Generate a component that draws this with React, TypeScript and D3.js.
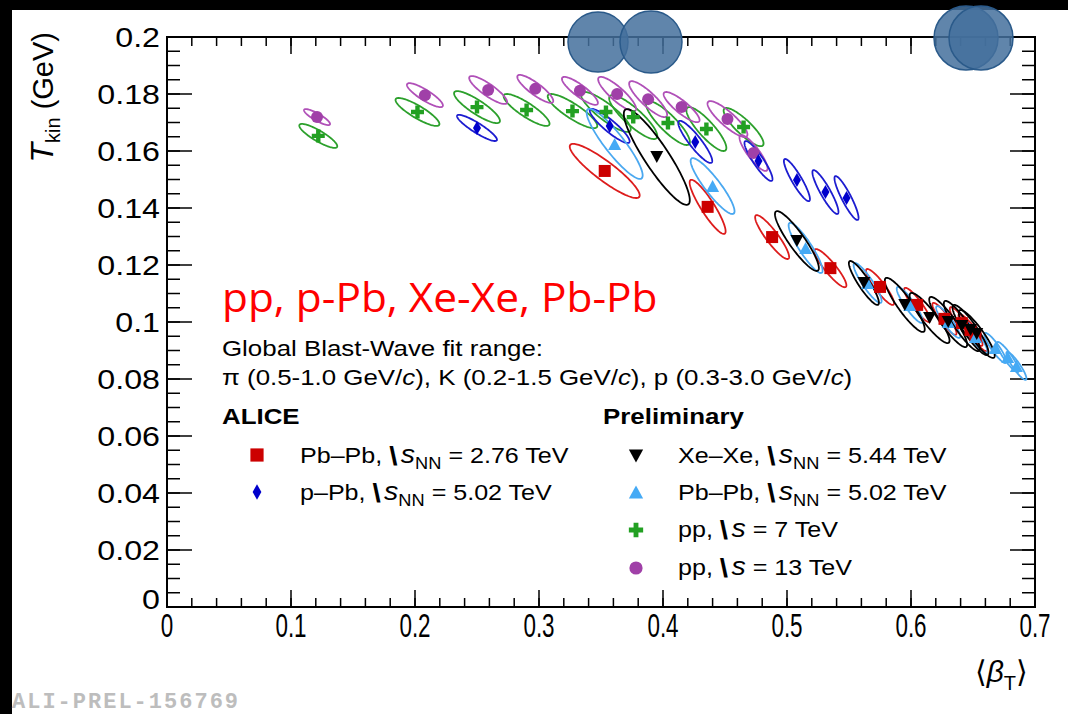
import React from 'react';
import * as d3 from 'd3';

const W = 1068;
const H = 714;

// axis ranges and tick labels
const xDomain = [0, 0.7];
const yDomain = [0, 0.2];
const xTickLabels = ['0', '0.1', '0.2', '0.3', '0.4', '0.5', '0.6', '0.7'];
const yTickLabels = ['0', '0.02', '0.04', '0.06', '0.08', '0.1', '0.12', '0.14', '0.16', '0.18', '0.2'];

// [<beta_T>, T_kin, sigma(beta), sigma(T)]
type Pt = [number, number, number, number];

const pbpb276: Pt[] = [
  [0.353, 0.153, 0.0282, 0.0095],
  [0.436, 0.1404, 0.0145, 0.0095],
  [0.488, 0.1298, 0.0137, 0.0077],
  [0.535, 0.1189, 0.0129, 0.0067],
  [0.575, 0.1123, 0.0113, 0.0063],
  [0.605, 0.106, 0.0105, 0.006],
  [0.627, 0.1011, 0.0097, 0.0056],
  [0.641, 0.0996, 0.0097, 0.0056],
  [0.648, 0.0972, 0.0097, 0.0056],
  [0.652, 0.0954, 0.0097, 0.0056],
];
const ppb502: Pt[] = [
  [0.25, 0.1681, 0.0161, 0.0046],
  [0.357, 0.1688, 0.0161, 0.006],
  [0.426, 0.1632, 0.0137, 0.0074],
  [0.477, 0.1565, 0.0113, 0.007],
  [0.508, 0.1498, 0.0105, 0.0074],
  [0.531, 0.1456, 0.0105, 0.0077],
  [0.548, 0.1435, 0.0097, 0.0077],
];
const xexe544: Pt[] = [
  [0.395, 0.1579, 0.0266, 0.0168],
  [0.508, 0.1284, 0.0177, 0.0105],
  [0.562, 0.1137, 0.0121, 0.0077],
  [0.595, 0.106, 0.0161, 0.0095],
  [0.615, 0.1014, 0.0161, 0.0088],
  [0.63, 0.1, 0.0153, 0.0088],
  [0.641, 0.0986, 0.0145, 0.0088],
  [0.648, 0.0972, 0.0145, 0.0088],
  [0.653, 0.0958, 0.0145, 0.0084],
];
const pbpb502: Pt[] = [
  [0.361, 0.1625, 0.0226, 0.0123],
  [0.44, 0.1477, 0.0177, 0.0098],
  [0.515, 0.126, 0.0137, 0.0088],
  [0.565, 0.1137, 0.0113, 0.007],
  [0.599, 0.106, 0.0105, 0.0063],
  [0.63, 0.1, 0.0097, 0.0056],
  [0.652, 0.0947, 0.0097, 0.0056],
  [0.668, 0.0909, 0.0089, 0.0053],
  [0.678, 0.0877, 0.0089, 0.0053],
  [0.685, 0.0846, 0.0081, 0.0049],
];
const pp7: Pt[] = [
  [0.122, 0.1653, 0.0153, 0.0042],
  [0.202, 0.1737, 0.0177, 0.0049],
  [0.25, 0.1754, 0.0185, 0.0056],
  [0.29, 0.1744, 0.0185, 0.0056],
  [0.327, 0.174, 0.02, 0.006],
  [0.354, 0.1737, 0.02, 0.007],
  [0.376, 0.1719, 0.0194, 0.0077],
  [0.404, 0.1698, 0.0177, 0.0077],
  [0.435, 0.1677, 0.0161, 0.0077],
  [0.465, 0.1684, 0.0161, 0.0067],
];
const pp13: Pt[] = [
  [0.121, 0.1719, 0.0105, 0.0028],
  [0.208, 0.1796, 0.0145, 0.0042],
  [0.259, 0.1814, 0.0153, 0.0049],
  [0.297, 0.1818, 0.0145, 0.0049],
  [0.333, 0.1811, 0.0145, 0.0049],
  [0.363, 0.18, 0.0153, 0.006],
  [0.388, 0.1782, 0.0153, 0.0063],
  [0.415, 0.1754, 0.0145, 0.0053],
  [0.452, 0.1712, 0.0161, 0.0063],
  [0.473, 0.1593, 0.0113, 0.0063],
];
// correlation coefficient of each series' contour
const rhoPbPb276 = -0.9;
const rhoPPb502 = -0.9;
const rhoXeXe = -0.9;
const rhoPbPb502 = -0.9;
const rhoPP7 = -0.86;
const rhoPP13 = -0.86;

const PL = 167, PR = 1035, PT = 37, PB = 607;
const x = d3.scaleLinear().domain(xDomain).range([PL, PR]);
const y = d3.scaleLinear().domain(yDomain).range([PB, PT]);

const FONT = 'Liberation Sans, Arial, Helvetica, sans-serif';

function ellipsePath(p: Pt, rho: number): string {
  const ts = d3.range(0, 2 * Math.PI + 0.001, Math.PI / 60);
  const k = Math.sqrt(1 - rho * rho);
  const line = d3.line<number>()
    .x(t => x(p[0] + p[2] * Math.cos(t)))
    .y(t => y(p[1] + p[3] * (rho * Math.cos(t) + k * Math.sin(t))))
    .curve(d3.curveLinearClosed);
  return line(ts) || '';
}

type Kind = 'square' | 'diamond' | 'tridown' | 'triup' | 'cross' | 'circle';

function Marker({ cx, cy, kind, color, s = 1 }: { cx: number; cy: number; kind: Kind; color: string; s?: number }) {
  let d = '';
  if (kind === 'square') {
    const h = 6 * s;
    d = `M${-h},${-h}H${h}V${h}H${-h}Z`;
  } else if (kind === 'diamond') {
    const w = 4 * s, h = 7 * s;
    d = `M0,${-h}L${w},0L0,${h}L${-w},0Z`;
  } else if (kind === 'tridown') {
    const w = 6.5 * s, h = 6 * s;
    d = `M${-w},${-h}L${w},${-h}L0,${h}Z`;
  } else if (kind === 'triup') {
    const w = 6.5 * s, h = 6 * s;
    d = `M${-w},${h}L${w},${h}L0,${-h}Z`;
  } else if (kind === 'cross') {
    const a = 6.5 * s, b = 2.2 * s;
    d = `M${-b},${-a}H${b}V${-b}H${a}V${b}H${b}V${a}H${-b}V${b}H${-a}V${-b}H${-b}Z`;
  } else {
    return <circle cx={cx} cy={cy} r={6 * s} fill={color} />;
  }
  return <path d={d} transform={`translate(${cx},${cy})`} fill={color} />;
}

const series = [
  { data: pp7, rho: rhoPP7, kind: 'cross' as Kind, line: '#2ca02c', fill: '#22a022' },
  { data: pp13, rho: rhoPP13, kind: 'circle' as Kind, line: '#b050b8', fill: '#a040a8' },
  { data: ppb502, rho: rhoPPb502, kind: 'diamond' as Kind, line: '#1c1cd0', fill: '#0000cc' },
  { data: pbpb276, rho: rhoPbPb276, kind: 'square' as Kind, line: '#dd1c1c', fill: '#cc0000' },
  { data: pbpb502, rho: rhoPbPb502, kind: 'triup' as Kind, line: '#4aa8f0', fill: '#45aaf5' },
  { data: xexe544, rho: rhoXeXe, kind: 'tridown' as Kind, line: '#000000', fill: '#000000' },
];

function LegendText({ tx, ty, pre, sub, post }: { tx: number; ty: number; pre: string; sub: string; post: string }) {
  return (
    <text transform={`translate(${tx},${ty}) scale(1.14,1)`} fontFamily={FONT} fontSize={22} fill="#000">
      <tspan>{pre}</tspan>
      <tspan fontWeight="bold" fontSize={26} dy={2}>{'\\'}</tspan>
      <tspan fontStyle="italic" fontSize={25} dy={-2} dx={3}>{'s'}</tspan>
      {sub ? <tspan fontSize={16} dy={6}>{sub}</tspan> : null}
      <tspan dy={sub ? -6 : 0}>{post}</tspan>
    </text>
  );
}

export default function App() {
  const xMajor = d3.range(0, 0.7001, 0.1);
  const xMinor = d3.range(0, 0.7001, 0.02);
  const yMajor = d3.range(0, 0.2001, 0.02);
  const yMinor = d3.range(0, 0.2001, 0.005);

  return (
    <svg width={W} height={H} style={{ position: 'absolute', left: 0, top: 0 }}>
      <rect x={0} y={0} width={W} height={H} fill="#000" />
      <rect x={12} y={10} width={W - 12} height={H - 10} fill="#fff" />

      {/* axes frame */}
      <rect x={PL} y={PT} width={PR - PL} height={PB - PT} fill="none" stroke="#000" strokeWidth={2} />
      {xMinor.map((v, i) => (
        <g key={'xm' + i}>
          <line x1={x(v)} x2={x(v)} y1={PB} y2={PB - 9} stroke="#000" strokeWidth={1.5} />
          <line x1={x(v)} x2={x(v)} y1={PT} y2={PT + 9} stroke="#000" strokeWidth={1.5} />
        </g>
      ))}
      {xMajor.map((v, i) => (
        <g key={'xM' + i}>
          <line x1={x(v)} x2={x(v)} y1={PB} y2={PB - 17} stroke="#000" strokeWidth={1.5} />
          <line x1={x(v)} x2={x(v)} y1={PT} y2={PT + 17} stroke="#000" strokeWidth={1.5} />
        </g>
      ))}
      {yMinor.map((v, i) => (
        <g key={'ym' + i}>
          <line x1={PL} x2={PL + 13} y1={y(v)} y2={y(v)} stroke="#000" strokeWidth={1.5} />
          <line x1={PR} x2={PR - 13} y1={y(v)} y2={y(v)} stroke="#000" strokeWidth={1.5} />
        </g>
      ))}
      {yMajor.map((v, i) => (
        <g key={'yM' + i}>
          <line x1={PL} x2={PL + 25} y1={y(v)} y2={y(v)} stroke="#000" strokeWidth={1.5} />
          <line x1={PR} x2={PR - 25} y1={y(v)} y2={y(v)} stroke="#000" strokeWidth={1.5} />
        </g>
      ))}

      {/* tick labels */}
      {xMajor.map((v, i) => (
        <text key={'xl' + i} transform={`translate(${x(v)},${637}) scale(0.68,1)`} textAnchor="middle"
          fontFamily={FONT} fontSize={33} fill="#000">{xTickLabels[i]}</text>
      ))}
      {yMajor.map((v, i) => (
        <text key={'yl' + i} transform={`translate(${160},${y(v) + (i === 0 ? 2 : 10)}) scale(1.15,1)`} textAnchor="end"
          fontFamily={FONT} fontSize={28} fill="#000">{yTickLabels[i]}</text>
      ))}

      {/* axis titles */}
      <text transform="translate(53,32) rotate(-90)" textAnchor="end" fontFamily={FONT} fontSize={29} fill="#000">
        <tspan fontStyle="italic" fontSize={32}>T</tspan>
        <tspan fontSize={20} dy={7}>{'kin'}</tspan>
        <tspan dy={-7}>{' (GeV)'}</tspan>
      </text>
      <text x={1028} y={682} textAnchor="end" fontFamily={FONT} fontSize={30} fill="#000">
        <tspan>{'\u27E8'}</tspan>
        <tspan fontStyle="italic">{'\u03B2'}</tspan>
        <tspan fontSize={20} dy={8}>{'T'}</tspan>
        <tspan dy={-8}>{'\u27E9'}</tspan>
      </text>

      {/* ellipses */}
      {series.map((s, si) => (
        <g key={'e' + si}>
          {s.data.map((p, i) => (
            <path key={i} d={ellipsePath(p, s.rho)} fill="none" stroke={s.line} strokeWidth={1.8} />
          ))}
        </g>
      ))}
      {/* markers */}
      {series.map((s, si) => (
        <g key={'m' + si}>
          {s.data.map((p, i) => (
            <Marker key={i} cx={x(p[0])} cy={y(p[1])} kind={s.kind} color={s.fill} />
          ))}
        </g>
      ))}

      {/* texts */}
      <text transform="translate(222,312) scale(1.06,1)" fontFamily="Open Sans, Liberation Sans, sans-serif" fontSize={40} fill="#ff0000">
        pp, p-Pb, Xe-Xe, Pb-Pb
      </text>
      <text transform="translate(222,356) scale(1.15,1)" fontFamily={FONT} fontSize={22.5} fill="#000">Global Blast-Wave fit range:</text>
      <text transform="translate(222,385) scale(1.15,1)" fontFamily={FONT} fontSize={22.5} fill="#000">
        <tspan>{'\u03C0 (0.5-1.0 GeV/'}</tspan><tspan fontStyle="italic">c</tspan>
        <tspan>{'), K (0.2-1.5 GeV/'}</tspan><tspan fontStyle="italic">c</tspan>
        <tspan>{'), p (0.3-3.0 GeV/'}</tspan><tspan fontStyle="italic">c</tspan>
        <tspan>{')'}</tspan>
      </text>
      <text transform="translate(222,424) scale(1.15,1)" fontFamily={FONT} fontSize={22.5} fontWeight="bold" fill="#000">ALICE</text>
      <text transform="translate(603,424) scale(1.15,1)" fontFamily={FONT} fontSize={22.5} fontWeight="bold" fill="#000">Preliminary</text>

      <Marker cx={257} cy={455} kind="square" color="#cc0000" s={1.1} />
      <LegendText tx={300} ty={463} pre="Pb–Pb, " sub="NN" post=" = 2.76 TeV" />
      <Marker cx={257} cy={492} kind="diamond" color="#0000cc" s={1.1} />
      <LegendText tx={300} ty={500} pre="p–Pb, " sub="NN" post=" = 5.02 TeV" />

      <Marker cx={636} cy={456} kind="tridown" color="#000" s={1.1} />
      <LegendText tx={678} ty={463} pre="Xe–Xe, " sub="NN" post=" = 5.44 TeV" />
      <Marker cx={636} cy={492} kind="triup" color="#45aaf5" s={1.1} />
      <LegendText tx={678} ty={500} pre="Pb–Pb, " sub="NN" post=" = 5.02 TeV" />
      <Marker cx={636} cy={530} kind="cross" color="#22a022" s={1.1} />
      <LegendText tx={678} ty={537} pre="pp, " sub="" post=" = 7 TeV" />
      <Marker cx={636} cy={568} kind="circle" color="#a040a8" s={1.1} />
      <LegendText tx={678} ty={575} pre="pp, " sub="" post=" = 13 TeV" />

      <text x={12} y={708} fontFamily="Liberation Mono, DejaVu Sans Mono, monospace" fontWeight="bold" fontSize={22}
        letterSpacing={2} fill="#bdbdbd">ALI-PREL-156769</text>

      {/* overlay circles */}
      <g fill="#44709c" fillOpacity={0.85} stroke="#2a5a8a" strokeWidth={1.5}>
        <circle cx={598} cy={42} r={30} />
        <circle cx={651} cy={42} r={31} />
        <circle cx={966} cy={38} r={32} />
        <circle cx={981} cy={38} r={32} />
      </g>
    </svg>
  );
}
